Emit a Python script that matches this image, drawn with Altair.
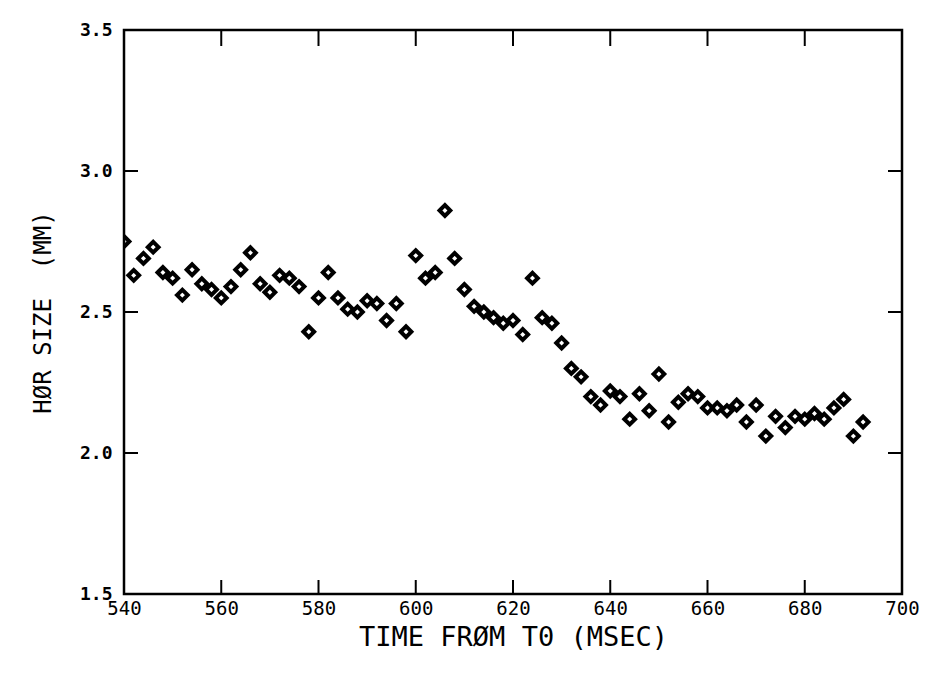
import altair as alt
import pandas as pd

# ---- data ----
time_ms = [540, 542, 544, 546, 548, 550, 552, 554, 556, 558,
           560, 562, 564, 566, 568, 570, 572, 574, 576, 578,
           580, 582, 584, 586, 588, 590, 592, 594, 596, 598,
           600, 602, 604, 606, 608, 610, 612, 614, 616, 618,
           620, 622, 624, 626, 628, 630, 632, 634, 636, 638,
           640, 642, 644, 646, 648, 650, 652, 654, 656, 658,
           660, 662, 664, 666, 668, 670, 672, 674, 676, 678,
           680, 682, 684, 686, 688, 690, 692]
hor_size = [2.75, 2.63, 2.69, 2.73, 2.64, 2.62, 2.56, 2.65, 2.60, 2.58,
            2.55, 2.59, 2.65, 2.71, 2.60, 2.57, 2.63, 2.62, 2.59, 2.43,
            2.55, 2.64, 2.55, 2.51, 2.50, 2.54, 2.53, 2.47, 2.53, 2.43,
            2.70, 2.62, 2.64, 2.86, 2.69, 2.58, 2.52, 2.50, 2.48, 2.46,
            2.47, 2.42, 2.62, 2.48, 2.46, 2.39, 2.30, 2.27, 2.20, 2.17,
            2.22, 2.20, 2.12, 2.21, 2.15, 2.28, 2.11, 2.18, 2.21, 2.20,
            2.16, 2.16, 2.15, 2.17, 2.11, 2.17, 2.06, 2.13, 2.09, 2.13,
            2.12, 2.14, 2.12, 2.16, 2.19, 2.06, 2.11]

x_tick_values = [540, 560, 580, 600, 620, 640, 660, 680, 700]
y_tick_values = [1.5, 2.0, 2.5, 3.0, 3.5]
x_inner_ticks = [560, 580, 600, 620, 640, 660, 680]
y_inner_ticks = [2.0, 2.5, 3.0]

df = pd.DataFrame({"t": time_ms, "size": hor_size})
xt = pd.DataFrame({"t": x_inner_ticks})
yt = pd.DataFrame({"v": y_inner_ticks})

W, H = 778, 564
TICK = 14

x_scale = alt.Scale(domain=[540, 700], nice=False, zero=False)
y_scale = alt.Scale(domain=[1.5, 3.5], nice=False, zero=False)

mono = "DejaVu Sans Mono"

points = alt.Chart(df).mark_point(
    shape="diamond", filled=False, stroke="black", strokeWidth=4,
    size=115, opacity=1, clip=True
).encode(
    x=alt.X("t:Q", scale=x_scale,
            axis=alt.Axis(values=x_tick_values, ticks=False, domain=False, grid=False,
                          labelFont=mono, labelFontSize=19, labelColor="black",
                          labelPadding=5, labelFlush=False,
                          title="TIME FRØM T0 (MSEC)", titleFont=mono,
                          titleFontSize=27, titleFontWeight="normal",
                          titleColor="black", titlePadding=6)),
    y=alt.Y("size:Q", scale=y_scale,
            axis=alt.Axis(values=y_tick_values, ticks=False, domain=False, grid=False,
                          format=".1f", labelFont=mono, labelFontSize=18,
                          labelFontWeight="bold", labelColor="black",
                          labelPadding=12, labelFlush=False,
                          title="HØR SIZE\u00a0\u00a0(MM)", titleFont=mono,
                          titleFontSize=24, titleFontWeight="normal",
                          titleColor="black", titlePadding=24)),
)

bottom_ticks = alt.Chart(xt).mark_rule(color="black", strokeWidth=2).encode(
    x=alt.X("t:Q", scale=x_scale), y=alt.value(H), y2=alt.value(H - TICK))
top_ticks = alt.Chart(xt).mark_rule(color="black", strokeWidth=2).encode(
    x=alt.X("t:Q", scale=x_scale), y=alt.value(0), y2=alt.value(TICK + 2))
left_ticks = alt.Chart(yt).mark_rule(color="black", strokeWidth=2).encode(
    y=alt.Y("v:Q", scale=y_scale), x=alt.value(0), x2=alt.value(TICK))
right_ticks = alt.Chart(yt).mark_rule(color="black", strokeWidth=2).encode(
    y=alt.Y("v:Q", scale=y_scale), x=alt.value(W), x2=alt.value(W - TICK))

chart = alt.layer(points, bottom_ticks, top_ticks, left_ticks, right_ticks).properties(
    width=W, height=H,
    autosize=alt.AutoSizeParams(type="none"),
    padding={"left": 116, "top": 22, "right": 25, "bottom": 84},
    background="white",
).configure_view(stroke="black", strokeWidth=2.5)

chart.save("out.html", embed_options={"renderer": "svg", "actions": False})
